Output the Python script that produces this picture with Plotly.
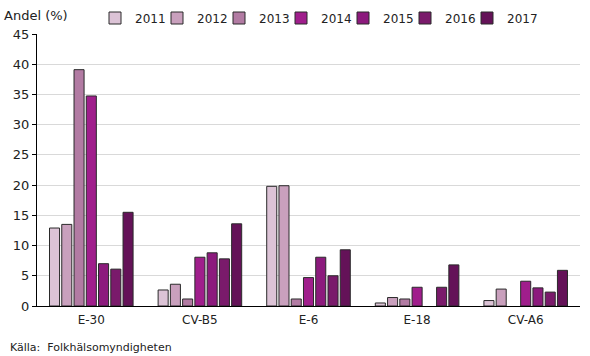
import plotly.graph_objects as go

categories = ["E-30", "CV-B5", "E-6", "E-18", "CV-A6"]
years = ["2011", "2012", "2013", "2014", "2015", "2016", "2017"]
values = {
    "2011": [12.9, 2.65, 19.8, 0.5, 0.9],
    "2012": [13.5, 3.6, 19.9, 1.4, 2.8],
    "2013": [39.1, 1.16, 1.16, 1.16, None],
    "2014": [34.75, 8.07, 4.7, 3.1, 4.1],
    "2015": [7.0, 8.8, 8.07, None, 3.0],
    "2016": [6.1, 7.8, 5.0, 3.1, 2.3],
    "2017": [15.5, 13.6, 9.3, 6.8, 5.9],
}
colors = ["#dcc3d6", "#c9a0bd", "#b27ba3", "#a01e8c", "#8c1a7d", "#7a1a6b", "#641258"]
y_ticks = [0, 5, 10, 15, 20, 25, 30, 35, 40, 45]

font = "DejaVu Sans"
fig = go.Figure()
legend_layout = {}
legend_x0 = 58 / 543
legend_step = 62 / 543
for i, (yr, col) in enumerate(zip(years, colors)):
    lname = "legend" if i == 0 else f"legend{i + 1}"
    fig.add_trace(go.Bar(
        x=categories, y=values[yr], name=yr, legend=lname,
        marker=dict(color=col, line=dict(color="#2a2a2a", width=1)),
    ))
    legend_layout[lname] = dict(
        orientation="h", x=legend_x0 + i * legend_step, yref="container",
        y=1 - 18/356, xanchor="left", yanchor="middle",
        font=dict(size=12, family=font), itemwidth=30,
        tracegroupgap=0, bgcolor="rgba(0,0,0,0)")

fig.update_layout(
    width=590, height=356,
    margin=dict(l=37, r=10, t=34, b=50),
    paper_bgcolor="white", plot_bgcolor="white",
    barmode="group", bargap=0.21, bargroupgap=0.18,
    font=dict(family=font, size=12, color="#222"),
    showlegend=True,
    yaxis=dict(range=[0, 45], tickvals=y_ticks, showgrid=True, gridcolor="#d9d9d9",
               showline=True, linecolor="black", linewidth=1, ticks="outside",
               ticklen=4, tickcolor="black", zeroline=False, automargin=False,
               tickfont=dict(size=13, family=font)),
    xaxis=dict(showline=True, linecolor="black", linewidth=1, ticks="", automargin=False,
               ticklabelstandoff=3, tickfont=dict(size=12, family=font)),
    **legend_layout,
)
fig.add_annotation(text="Andel (%)", xref="paper", yref="paper", x=-35/543, y=1 + 19/272,
                   xanchor="left", yanchor="middle", showarrow=False, font=dict(size=13))
fig.add_annotation(text="Källa:  Folkhälsomyndigheten", xref="paper", yref="paper",
                   x=-29/543, y=-41/272, xanchor="left", yanchor="middle", showarrow=False,
                   font=dict(size=11))
fig.write_html("out.html", config={"displayModeBar": False},
               post_script="document.body.style.margin='0';document.body.style.overflow='hidden';")
